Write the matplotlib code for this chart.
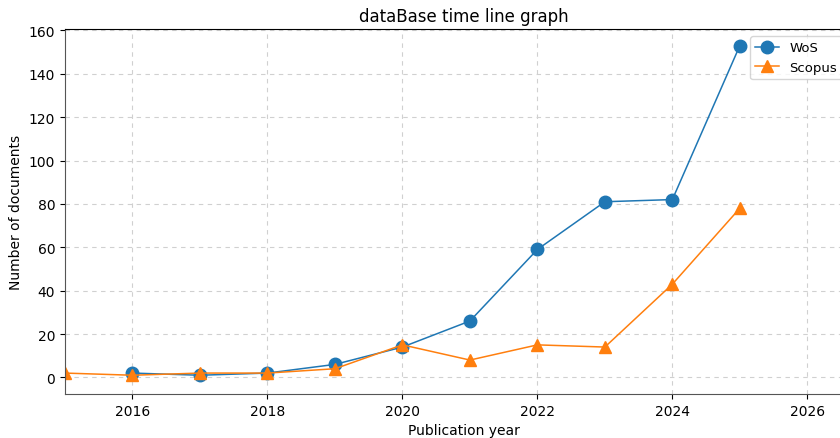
import matplotlib
matplotlib.use("Agg")
import matplotlib.pyplot as plt

years_wos = [2016, 2017, 2018, 2019, 2020, 2021, 2022, 2023, 2024, 2025]
wos = [2, 1, 2, 6, 14, 26, 59, 81, 82, 153]

years_scopus = [2015, 2016, 2017, 2018, 2019, 2020, 2021, 2022, 2023, 2024, 2025]
scopus = [2, 1, 2, 2, 4, 15, 8, 15, 14, 43, 78]

fig = plt.figure(figsize=(8.4, 4.39), dpi=100)
ax = fig.add_axes([65 / 840, 44 / 439, 797 / 840, 365 / 439])

ax.plot(years_wos, wos, marker="o", markersize=9, linewidth=1.1,
        color="#1f77b4", label="WoS")
ax.plot(years_scopus, scopus, marker="^", markersize=9, linewidth=1.1,
        color="#ff7f0e", label="Scopus")

ax.set_xlim(2015, 2026.81)
ax.set_ylim(-7.65, 160.65)
ax.set_xticks([2016, 2018, 2020, 2022, 2024, 2026])
ax.set_yticks(range(0, 161, 20))
ax.grid(True, linestyle=(0, (4, 4)), color="#d0d0d0", linewidth=0.8)

for side in ("left", "bottom"):
    ax.spines[side].set_color("#555555")

ax.set_title("dataBase time line graph")
ax.set_xlabel("Publication year")
ax.set_ylabel("Number of documents")
ax.legend(loc="upper left", bbox_to_anchor=(685 / 797, 1 - 7 / 365),
          borderaxespad=0, fontsize=9.5, handlelength=1.8)

fig.savefig("out.png", dpi=100)
